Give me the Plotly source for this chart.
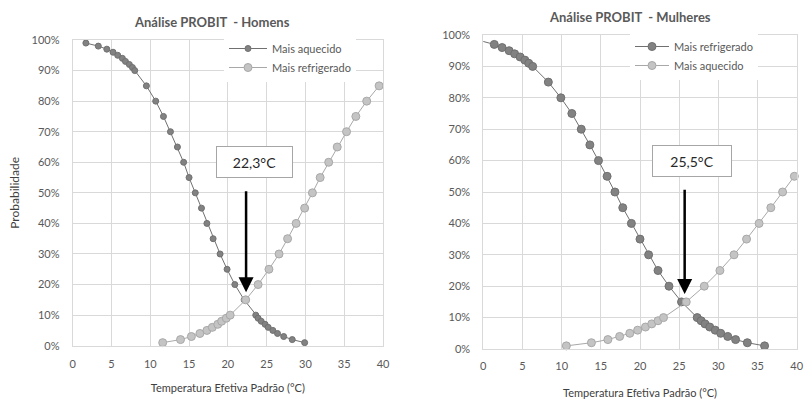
import plotly.graph_objects as go

# ---------------- data ----------------
# Homens
h_aq_prob = [0.99, 0.98, 0.97, 0.96, 0.95, 0.94, 0.93, 0.92, 0.91, 0.90, 0.85, 0.80, 0.75, 0.70,
             0.65, 0.60, 0.55, 0.50, 0.45, 0.40, 0.35, 0.30, 0.25, 0.20, 0.15,
             0.10, 0.09, 0.08, 0.07, 0.06, 0.05, 0.04, 0.03, 0.02, 0.01]
h_aq_temp = [1.7, 3.3, 4.4, 5.2, 5.8, 6.4, 6.8, 7.3, 7.7, 8.0, 9.5, 10.7, 11.7, 12.6,
             13.5, 14.3, 15.0, 15.8, 16.6, 17.3, 18.1, 19.0, 19.9, 20.9, 22.1,
             23.6, 23.9, 24.3, 24.8, 25.2, 25.8, 26.4, 27.2, 28.3, 29.9]

h_ref_prob = [0.01, 0.02, 0.03, 0.04, 0.05, 0.06, 0.07, 0.08, 0.09, 0.10,
              0.15, 0.20, 0.25, 0.30, 0.35, 0.40, 0.45, 0.50, 0.55, 0.60, 0.65, 0.70, 0.75, 0.80, 0.85]
h_ref_temp = [11.6, 13.9, 15.3, 16.4, 17.3, 18.0, 18.7, 19.2, 19.8, 20.3,
              22.3, 23.9, 25.3, 26.6, 27.7, 28.8, 29.9, 30.9, 31.9, 33.0, 34.1, 35.3, 36.5, 37.9, 39.5]

# Mulheres
m_ref_prob = [0.99, 0.98, 0.97, 0.96, 0.95, 0.94, 0.93, 0.92, 0.91, 0.90, 0.85, 0.80, 0.75, 0.70,
              0.65, 0.60, 0.55, 0.50, 0.45, 0.40, 0.35, 0.30, 0.25, 0.20, 0.15,
              0.10, 0.09, 0.08, 0.07, 0.06, 0.05, 0.04, 0.03, 0.02, 0.01]
m_ref_temp = [-2.3, -0.1, 1.4, 2.4, 3.3, 4.0, 4.7, 5.3, 5.8, 6.3, 8.3, 9.9, 11.3, 12.5,
              13.6, 14.7, 15.8, 16.8, 17.8, 18.9, 20.0, 21.1, 22.3, 23.7, 25.3,
              27.3, 27.8, 28.3, 28.9, 29.6, 30.3, 31.2, 32.2, 33.7, 35.9]

m_aq_prob = [0.01, 0.02, 0.03, 0.04, 0.05, 0.06, 0.07, 0.08, 0.09, 0.10,
             0.15, 0.20, 0.25, 0.30, 0.35, 0.40, 0.45, 0.50, 0.55]
m_aq_temp = [10.6, 13.8, 15.9, 17.4, 18.7, 19.7, 20.7, 21.5, 22.3, 23.0,
             25.9, 28.2, 30.2, 32.0, 33.6, 35.2, 36.7, 38.2, 39.7]

x_tickvals = [0, 5, 10, 15, 20, 25, 30, 35, 40]
y_tickvals = [0, 0.1, 0.2, 0.3, 0.4, 0.5, 0.6, 0.7, 0.8, 0.9, 1.0]

titles = ["Análise PROBIT\u00a0 - Homens", "Análise PROBIT\u00a0 - Mulheres"]
x_title = "Temperatura Efetiva Padrão (°C)"
y_title = "Probabilidade"
labels = ["22,3°C", "25,5°C"]

# ---------------- styling ----------------
FONT = "Lato, 'Open Sans', sans-serif"
TXT = "#595959"
GRID = "#d9d9d9"
DARK_LINE = "#707070"
DARK_FILL = "#828282"
LIGHT_LINE = "#a8a8a8"
LIGHT_FILL = "#c4c4c4"
CLEAR = "rgba(0,0,0,0)"

W, H = 805, 401

fig = go.Figure()

fig.add_trace(go.Scatter(x=h_aq_temp, y=h_aq_prob, mode="lines+markers", name="Mais aquecido",
                         line=dict(color=DARK_LINE, width=1),
                         marker=dict(size=6, color=DARK_FILL, line=dict(color=DARK_LINE, width=1)),
                         xaxis="x", yaxis="y", legend="legend", cliponaxis=False))
fig.add_trace(go.Scatter(x=h_ref_temp, y=h_ref_prob, mode="lines+markers", name="Mais refrigerado",
                         line=dict(color=LIGHT_LINE, width=1),
                         marker=dict(size=8, color=LIGHT_FILL, line=dict(color=LIGHT_LINE, width=1)),
                         xaxis="x", yaxis="y", legend="legend", cliponaxis=False))
fig.add_trace(go.Scatter(x=m_ref_temp, y=m_ref_prob, mode="lines+markers", name="Mais refrigerado",
                         line=dict(color=DARK_LINE, width=1),
                         marker=dict(size=8, color=DARK_FILL, line=dict(color=DARK_LINE, width=1)),
                         xaxis="x2", yaxis="y2", legend="legend2", cliponaxis=True))
fig.add_trace(go.Scatter(x=m_aq_temp, y=m_aq_prob, mode="lines+markers", name="Mais aquecido",
                         line=dict(color=LIGHT_LINE, width=1),
                         marker=dict(size=8, color=LIGHT_FILL, line=dict(color=LIGHT_LINE, width=1)),
                         xaxis="x2", yaxis="y2", legend="legend2", cliponaxis=False))

def px_x(p):
    return p / W

def px_y(p):
    return 1 - p / H

axis_common = dict(showgrid=True, gridcolor=GRID, gridwidth=1, zeroline=False,
                   showline=True, linecolor=GRID, linewidth=1, mirror=True,
                   ticks="outside", tickcolor=CLEAR, automargin=False,
                   tickfont=dict(family=FONT, size=11, color=TXT), fixedrange=True)

fig.update_layout(
    width=W, height=H, margin=dict(l=0, r=0, t=0, b=0, autoexpand=False),
    paper_bgcolor="white", plot_bgcolor="white",
    font=dict(family=FONT, color=TXT),
    xaxis=dict(domain=[px_x(72.7), px_x(383)], anchor="y", range=[0, 40], tickvals=x_tickvals,
               ticklen=8,
               title=dict(text=x_title, font=dict(family=FONT, size=11, color="#404040"), standoff=15),
               **axis_common),
    yaxis=dict(domain=[px_y(345.7), px_y(40)], anchor="x", range=[0, 1], tickvals=y_tickvals,
               tickformat=".0%", ticklen=10,
               title=dict(text=y_title, font=dict(family=FONT, size=12, color="#404040"), standoff=9),
               **axis_common),
    xaxis2=dict(domain=[px_x(483.3), px_x(796.7)], anchor="y2", range=[0, 40], tickvals=x_tickvals,
                ticklen=7,
                title=dict(text=x_title, font=dict(family=FONT, size=11, color="#404040"), standoff=18),
                **axis_common),
    yaxis2=dict(domain=[px_y(349), px_y(35)], anchor="x2", range=[0, 1], tickvals=y_tickvals,
                tickformat=".0%", ticklen=10, **axis_common),
    legend=dict(x=px_x(224), y=px_y(34), xanchor="left", yanchor="top", bgcolor="white",
                font=dict(family=FONT, size=11, color=TXT), itemwidth=38, tracegroupgap=0,
                borderwidth=0),
    legend2=dict(x=px_x(630), y=px_y(32), xanchor="left", yanchor="top", bgcolor="white",
                 font=dict(family=FONT, size=11, color=TXT), itemwidth=34, tracegroupgap=0,
                 borderwidth=0),
    showlegend=True,
)

annotations = [
    dict(text="<b>" + titles[0] + "</b>", x=px_x(212), y=px_y(22), xref="paper", yref="paper",
         xanchor="center", yanchor="middle",
         showarrow=False, font=dict(family=FONT, size=13, color=TXT)),
    dict(text="<b>" + titles[1] + "</b>", x=px_x(630), y=px_y(17), xref="paper", yref="paper",
         xanchor="center", yanchor="middle",
         showarrow=False, font=dict(family=FONT, size=13, color=TXT)),
    # label boxes
    dict(text=labels[0], x=23.4, y=0.602, xref="x", yref="y", showarrow=False,
         font=dict(family=FONT, size=14, color="#262626"), bgcolor="white",
         bordercolor="#a6a6a6", borderwidth=1, borderpad=1, width=73, height=28),
    dict(text=labels[1], x=26.6, y=0.599, xref="x2", yref="y2", showarrow=False,
         font=dict(family=FONT, size=14, color="#262626"), bgcolor="white",
         bordercolor="#a6a6a6", borderwidth=1, borderpad=1, width=76, height=28),
    # arrows
    dict(x=22.35, y=0.175, ax=22.35, ay=0.51, xref="x", yref="y", axref="x", ayref="y",
         text="", showarrow=True, arrowhead=2, arrowsize=1.2, arrowwidth=2.5, arrowcolor="black"),
    dict(x=25.7, y=0.175, ax=25.7, ay=0.512, xref="x2", yref="y2", axref="x2", ayref="y2",
         text="", showarrow=True, arrowhead=2, arrowsize=1.2, arrowwidth=2.5, arrowcolor="black"),
]
fig.update_layout(annotations=annotations)

# remove the default page margin so the figure fills the window exactly
fig.write_html("out.html",
               config={"displayModeBar": False, "staticPlot": True},
               post_script="document.body.style.margin='0';document.body.style.overflow='hidden';")
